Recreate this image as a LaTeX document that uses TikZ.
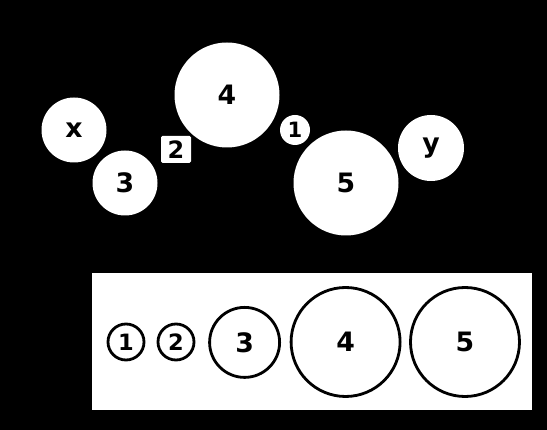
\documentclass[tikz,border=0pt]{standalone}
\usepackage{fontspec}
\setmainfont{DejaVu Sans}
\begin{document}
\begin{tikzpicture}
			\tikzstyle{disc}=[circle, fill=white, inner sep=0pt, font=\fontsize{38}{40}\selectfont\bfseries]
			\tikzstyle{ring}=[circle, draw=black, line width=4pt, inner sep=0pt, font=\fontsize{38}{40}\selectfont\bfseries]

			\fill [black] (0,0) rectangle (27.35,21.5);

			% top row
			\node (X) [disc, minimum size=3.25cm] at (3.7,15) {x};
			\node (N3) [disc, minimum size=3.25cm] at (6.25,12.35) {3};
			\node (N2) [fill=white, rounded corners=2pt, inner sep=0pt, minimum width=1.5cm, minimum height=1.35cm, font=\fontsize{34}{36}\selectfont\bfseries] at (8.8,14.03) {2};
			\node (N4) [disc, minimum size=5.25cm] at (11.35,16.75) {4};
			\node (N1) [disc, minimum size=1.5cm, font=\fontsize{30}{32}\selectfont\bfseries] at (14.75,15) {1};
			\node (N5) [disc, minimum size=5.25cm] at (17.3,12.35) {5};
			\node (Y) [disc, minimum size=3.3cm] at (21.55,14.1) {y};

			% key
			\node (key) [fill=white, inner sep=0pt, minimum width=21.96cm, minimum height=6.87cm] at (15.6,4.415) {};
			\node (K1) [ring, minimum size=1.8cm, font=\fontsize{32}{34}\selectfont\bfseries] at (6.3,4.4) {1};
			\node (K2) [ring, minimum size=1.8cm, font=\fontsize{32}{34}\selectfont\bfseries] at (8.8,4.4) {2};
			\node (K3) [ring, minimum size=3.5cm] at (12.23,4.38) {3};
			\node (K4) [ring, minimum size=5.45cm] at (17.28,4.4) {4};
			\node (K5) [ring, minimum size=5.45cm] at (23.25,4.4) {5};
		\end{tikzpicture}
\end{document}
